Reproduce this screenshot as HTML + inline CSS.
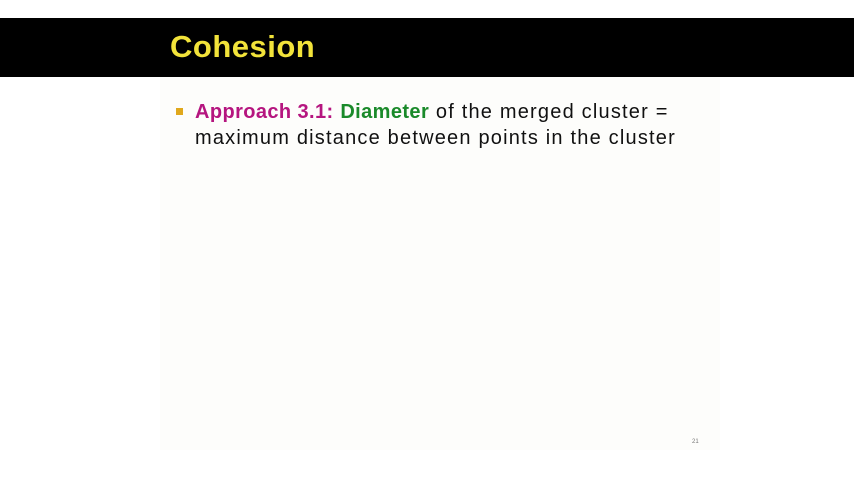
<!DOCTYPE html>
<html><head><style>
body{margin:0;width:854px;height:480px;background:#fff;overflow:hidden;font-family:"Liberation Sans",sans-serif;position:relative}
.band{position:absolute;left:0;top:18px;width:854px;height:59px;background:#000}
.title{position:absolute;left:170px;top:28px;font-size:31px;color:#f2e33a;line-height:38px;font-weight:bold;letter-spacing:0.5px}
.slide{position:absolute;left:160px;top:77px;width:560px;height:373px;background:#fdfdfb}
.bul{position:absolute;left:176px;top:108px;width:7px;height:7px;background:#e0a81c}
.txt{position:absolute;left:195px;top:99px;font-size:20px;line-height:26px;color:#111;white-space:nowrap;letter-spacing:1.2px}
.pg{position:absolute;left:692px;top:439px;font-size:6px;color:#777}
</style></head><body>
<div class="band"></div>
<div class="title">Cohesion</div>
<div class="slide"></div>
<div class="bul"></div>
<div class="txt"><b style="color:#b5157f;letter-spacing:0.4px">Approach 3.1:</b> <b style="color:#1a8a2a;letter-spacing:0.4px">Diameter</b> of the merged cluster =<br>maximum distance between points in the cluster</div>
<div class="pg">21</div>
</body></html>
